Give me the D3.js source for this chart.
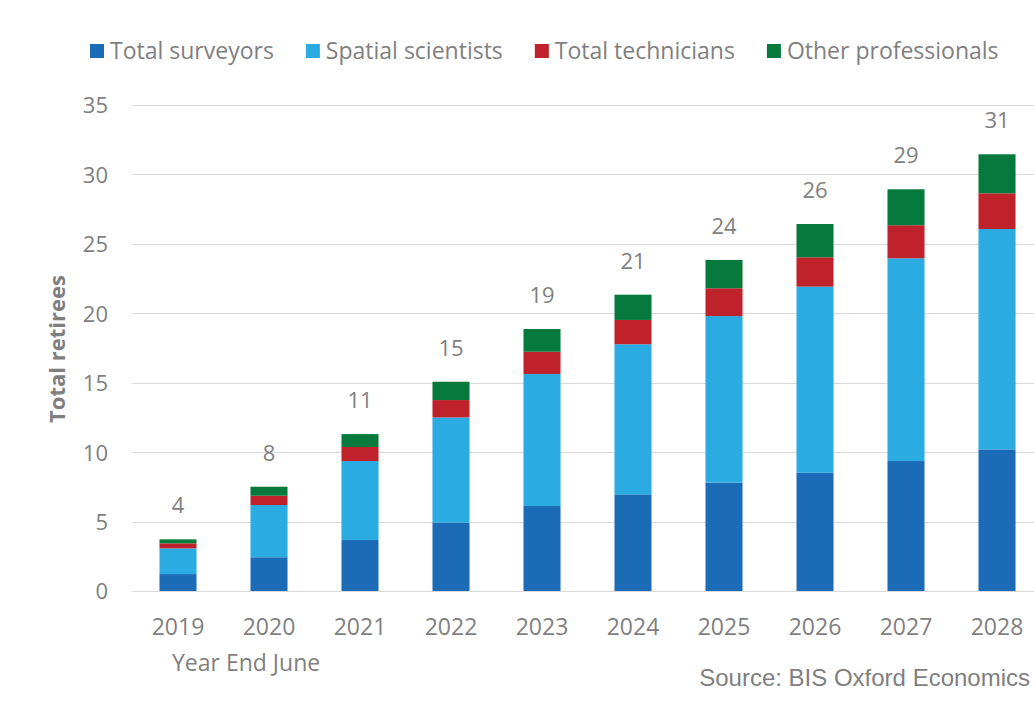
<!DOCTYPE html>
<html>
<head>
<meta charset="utf-8">
<script src="https://cdn.jsdelivr.net/npm/d3@7"></script>
<style>
  html, body { margin: 0; padding: 0; background: #fff; }
  svg { display: block; }
  text { font-family: "Open Sans", sans-serif; fill: #7f7f7f; }
</style>
</head>
<body>
<svg id="chart" width="1034" height="715"></svg>
<script>
const years = ["2019","2020","2021","2022","2023","2024","2025","2026","2027","2028"];
const seriesNames = ["Total surveyors","Spatial scientists","Total technicians","Other professionals"];
const seriesColors = ["#1c6bb6","#2aabe2","#c0222b","#067a3c"];
const surveyors  = [1.22, 2.43, 3.67, 4.92, 6.12, 6.96, 7.80, 8.52, 9.36, 10.20];
const spatial    = [1.85, 3.76, 5.69, 7.58, 9.51, 10.81, 12.00, 13.40, 14.60, 15.87];
const technicians= [0.36, 0.67, 1.01, 1.25, 1.60, 1.75, 2.00, 2.11, 2.38, 2.57];
const others     = [0.29, 0.65, 0.93, 1.32, 1.64, 1.82, 2.04, 2.40, 2.59, 2.81];
const yTicks = [0, 5, 10, 15, 20, 25, 30, 35];

const svg = d3.select("#chart");
const W = 1034;

const x = d3.scaleBand().domain(years).range([132.5, 1042.5])
  .paddingInner(0.593).paddingOuter(0.2965);
const y = d3.scaleLinear().domain([0, 35]).range([591, 105]);

// table for stacking
const table = years.map((yr, i) => ({
  year: yr,
  "Total surveyors": surveyors[i],
  "Spatial scientists": spatial[i],
  "Total technicians": technicians[i],
  "Other professionals": others[i]
}));
const stack = d3.stack().keys(seriesNames)(table);

// gridlines
svg.append("g").selectAll("line").data(yTicks).join("line")
  .attr("x1", 132).attr("x2", W)
  .attr("y1", d => Math.round(y(d)) + 0.5).attr("y2", d => Math.round(y(d)) + 0.5)
  .attr("stroke", "#d9d9d9").attr("stroke-width", 1.2);

// y axis labels
const yAxis = d3.axisLeft(y).tickValues(yTicks).tickSize(0).tickPadding(0);
const yg = svg.append("g").attr("transform", "translate(108,0)").call(yAxis);
yg.select(".domain").remove();
yg.selectAll("text").attr("font-size", 22).attr("fill", "#7f7f7f")
  .attr("font-family", "Open Sans, sans-serif").attr("dy", "0.36em");

// bars
svg.append("g").selectAll("g").data(stack).join("g")
  .attr("fill", (d, i) => seriesColors[i])
  .selectAll("rect").data(d => d).join("rect")
  .attr("x", d => x(d.data.year))
  .attr("width", x.bandwidth())
  .attr("y", d => y(d[1]))
  .attr("height", d => y(d[0]) - y(d[1]));

// x axis labels
const xAxis = d3.axisBottom(x).tickSize(0).tickPadding(0);
const xg = svg.append("g").attr("transform", "translate(0,591)").call(xAxis);
xg.select(".domain").remove();
xg.selectAll("text").attr("font-size", 23).attr("fill", "#7f7f7f")
  .attr("font-family", "Open Sans, sans-serif").attr("dy", null).attr("y", 44);

// total labels
const totals = years.map((yr, i) => surveyors[i] + spatial[i] + technicians[i] + others[i]);
svg.append("g").selectAll("text").data(years).join("text")
  .attr("x", d => x(d) + x.bandwidth() / 2)
  .attr("y", (d, i) => y(totals[i]) - 26)
  .attr("text-anchor", "middle")
  .attr("font-size", 22)
  .text((d, i) => Math.round(totals[i]));

// y title
svg.append("text")
  .attr("transform", "translate(65,349) rotate(-90)")
  .attr("text-anchor", "middle")
  .attr("font-size", 22).attr("font-weight", "bold")
  .text("Total retirees");

// x sub label
svg.append("text").attr("x", 172).attr("y", 671)
  .attr("font-size", 23).text("Year End June");

// source
svg.append("text").attr("x", 1030).attr("y", 686)
  .attr("text-anchor", "end")
  .attr("font-size", 24)
  .style("font-family", "'Liberation Sans', Arial, sans-serif")
  .text("Source: BIS Oxford Economics");

// legend
const legend = svg.append("g");
let lx = 90;
seriesNames.forEach((name, i) => {
  legend.append("rect").attr("x", lx).attr("y", 44).attr("width", 14).attr("height", 14)
    .attr("fill", seriesColors[i]);
  const t = legend.append("text").attr("x", lx + 20).attr("y", 59)
    .attr("font-size", 23).text(name);
  lx += 20 + t.node().getComputedTextLength() + 32;
});
</script>
</body>
</html>
